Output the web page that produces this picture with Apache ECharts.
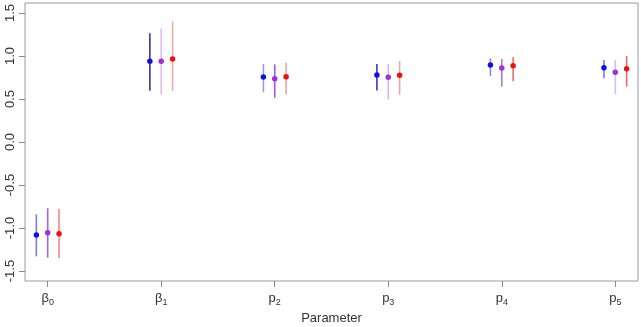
<!DOCTYPE html>
<html>
<head>
<meta charset="utf-8">
<script src="https://cdn.jsdelivr.net/npm/echarts@6/dist/echarts.min.js"></script>
<style>
  html, body { margin: 0; padding: 0; background: #fff; }
  #chart { width: 641px; height: 327px; }
</style>
</head>
<body>
<div id="chart"></div>
<script>
// 参数名 (β / p 加下标)
var paramBase = ['β', 'β', 'p', 'p', 'p', 'p']
var paramSub = ['0', '1', '2', '3', '4', '5']
var yTicks = [-1.5, -1.0, -0.5, 0.0, 0.5, 1.0, 1.5]

// 蓝色
var blueEst = [-1.08, 0.94, 0.756, 0.779, 0.895, 0.864]
var blueLo = [-1.33, 0.597, 0.578, 0.6, 0.767, 0.74]
var blueHi = [-0.84, 1.265, 0.907, 0.907, 0.973, 0.953]
// 紫色
var purpleEst = [-1.055, 0.94, 0.736, 0.752, 0.86, 0.81]
var purpleLo = [-1.345, 0.55, 0.515, 0.496, 0.643, 0.555]
var purpleHi = [-0.77, 1.32, 0.903, 0.907, 0.965, 0.953]
// 红色
var redEst = [-1.066, 0.965, 0.76, 0.775, 0.887, 0.852]
var redLo = [-1.35, 0.595, 0.55, 0.55, 0.705, 0.643]
var redHi = [-0.78, 1.4, 0.922, 0.942, 0.985, 1.0]

// 误差线颜色（每个参数深浅不一）
var blueLineColors = ['#7a7aea', '#35358f', '#9a9af5', '#3a3acc', '#8a8aee', '#7a7ada']
var purpleLineColors = ['#9a66dd', '#dcbcf2', '#a458e0', '#d4b6f0', '#a878dc', '#dabcf2']
var redLineColors = ['#f08888', '#f5a8a8', '#eba6a6', '#eba6a6', '#f06a6a', '#f06a6a']

var chart = echarts.init(document.getElementById('chart'))
var xs = paramBase.map(function (b, i) { return i + 1 })

function errorSeries(name, offset, lo, hi, colors) {
  return {
    name: name + '-bar',
    type: 'custom',
    data: xs.map(function (x, i) { return [x + offset, lo[i], hi[i]] }),
    renderItem: function (params, api) {
      var p1 = api.coord([api.value(0), api.value(1)])
      var p2 = api.coord([api.value(0), api.value(2)])
      return {
        type: 'line',
        shape: { x1: p1[0], y1: p1[1], x2: p2[0], y2: p2[1] },
        style: { stroke: colors[params.dataIndex], lineWidth: 1.6 }
      }
    },
    z: 2
  }
}

function pointSeries(name, offset, est, color) {
  return {
    name: name,
    type: 'scatter',
    data: xs.map(function (x, i) { return [x + offset, est[i]] }),
    symbol: 'circle',
    symbolSize: 5.5,
    itemStyle: { color: color, opacity: 1 },
    z: 3
  }
}

var rich = {
  b: { fontSize: 13, color: '#333', fontFamily: 'Liberation Sans' },
  s: { fontSize: 9, color: '#333', fontFamily: 'Liberation Sans', padding: [9, 0, 0, 0] }
}

chart.setOption({
  animation: false,
  grid: {
    left: 25, right: 3, top: 3, bottom: 46,
    outerBoundsMode: 'none',
    containLabel: false,
    show: true, borderColor: '#9a9a9a', borderWidth: 1
  },
  xAxis: {
    type: 'value',
    min: 0.8,
    max: 6.2,
    name: 'Parameter',
    nameLocation: 'middle',
    nameGap: 31,
    nameTextStyle: { fontSize: 13, color: '#333', fontFamily: 'Liberation Sans' },
    splitLine: { show: false },
    axisLine: { show: false, onZero: false },
    axisTick: { show: true, customValues: xs, length: 6, lineStyle: { color: '#8a8a8a' } },
    axisLabel: {
      customValues: xs,
      margin: 8,
      formatter: function (v) {
        var i = Math.round(v) - 1
        return '{b|' + paramBase[i] + '}{s|' + paramSub[i] + '}'
      },
      rich: rich
    }
  },
  yAxis: {
    type: 'value',
    min: -1.616,
    max: 1.616,
    splitLine: { show: false },
    axisLine: { show: false, onZero: false },
    axisTick: { show: true, customValues: yTicks, length: 6, lineStyle: { color: '#8a8a8a' } },
    axisLabel: {
      customValues: yTicks,
      rotate: 90,
      margin: 8,
      fontSize: 13,
      color: '#333',
      fontFamily: 'Liberation Sans',
      formatter: function (v) { return v.toFixed(1) }
    }
  },
  series: [
    errorSeries('blue', -0.1, blueLo, blueHi, blueLineColors),
    errorSeries('purple', 0, purpleLo, purpleHi, purpleLineColors),
    errorSeries('red', 0.1, redLo, redHi, redLineColors),
    pointSeries('blue', -0.1, blueEst, '#1010ee'),
    pointSeries('purple', 0, purpleEst, '#9a30e0'),
    pointSeries('red', 0.1, redEst, '#f01010')
  ]
})
</script>
</body>
</html>
